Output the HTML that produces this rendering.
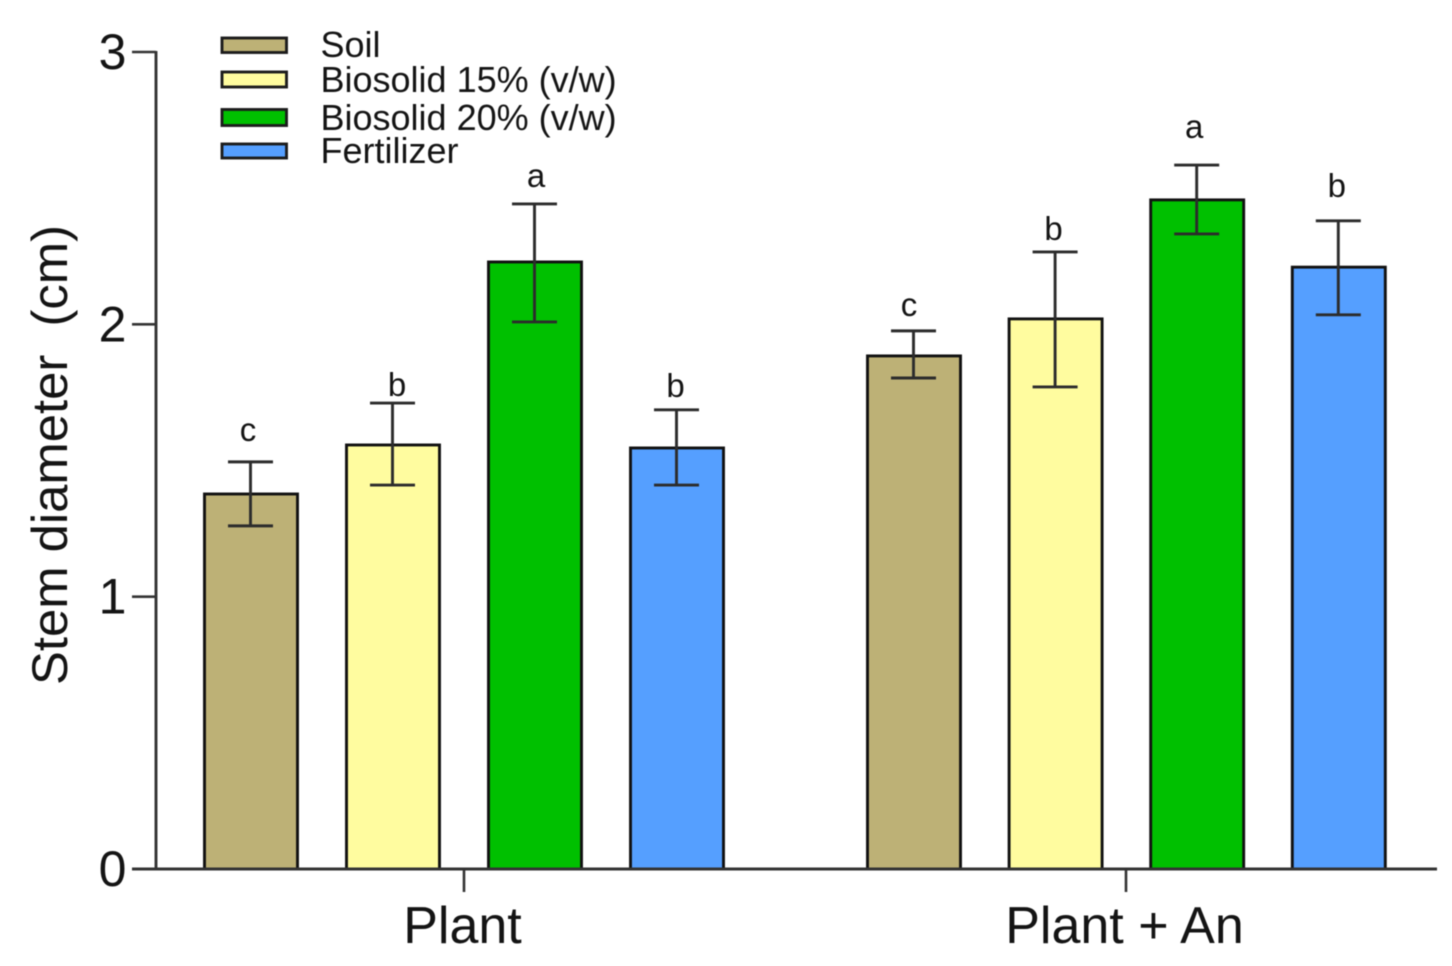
<!DOCTYPE html>
<html>
<head>
<meta charset="utf-8">
<title>Stem diameter chart</title>
<style>
html,body{margin:0;padding:0;background:#fff;}
svg{display:block;filter:blur(0.6px);}
text{font-family:"Liberation Sans",sans-serif;fill:#141414;white-space:pre;}
</style>
</head>
<body>
<svg id="chart" xmlns="http://www.w3.org/2000/svg" width="1452" height="966" viewBox="0 0 1452 966"></svg>
<script>
const groups = ['Plant', 'Plant + An'];
const seriesNames = ['Soil', 'Biosolid 15% (v/w)', 'Biosolid 20% (v/w)', 'Fertilizer'];
const yTicks = [0, 1, 2, 3];
const barValues = [1.377, 1.557, 2.229, 1.546, 1.884, 2.02, 2.457, 2.21];
const errorUpper = [1.495, 1.711, 2.442, 1.686, 1.976, 2.266, 2.585, 2.38];
const errorLower = [1.26, 1.41, 2.009, 1.41, 1.803, 1.77, 2.332, 2.035];
const letters = ['c', 'b', 'a', 'b', 'c', 'b', 'a', 'b'];
const letterLevels = [1.572, 1.737, 2.505, 1.733, 2.031, 2.31, 2.685, 2.468];

const colors = ['#BDB176', '#FFFC9F', '#00C000', '#559FFF'];
const NS = 'http://www.w3.org/2000/svg';
const svg = document.getElementById('chart');
const axisColor = '#333';
const letterNudge = [-3, 4, 1, -1.5, -5, -2, -3, -2];

function yScale(v) { return 869 - v * 272.33; }
function xScale(g, s) { return (g === 0 ? 251 : 914) + s * (g === 0 ? 142 : 141.6); }
function groupCenter(g) { return g === 0 ? 464 : 1126; }

function make(tag, attrs, text) {
  const el = document.createElementNS(NS, tag);
  for (const k in attrs) el.setAttribute(k, attrs[k]);
  if (text !== undefined) el.textContent = text;
  svg.appendChild(el);
  return el;
}

// Bars, error bars and significance letters
barValues.forEach(function (v, i) {
  const g = Math.floor(i / seriesNames.length);
  const s = i % seriesNames.length;
  const cx = xScale(g, s);
  const top = yScale(v);
  const bar = make('rect', {x: cx - 46.5, y: top, width: 93, height: yScale(0) - top, fill: colors[s], stroke: '#111', 'stroke-width': 2.9});
  
  

  const up = yScale(errorUpper[i]);
  const lo = yScale(errorLower[i]);
  const stem = make('line', {x1: cx - 0.5, x2: cx - 0.5, y1: up, y2: lo, stroke: '#2c2c2c', 'stroke-width': 2.9});
  
  
  const capTop = make('line', {x1: cx - 23, x2: cx + 22, y1: up, y2: up, stroke: '#2c2c2c', 'stroke-width': 2.9});
  
  
  const capLow = make('line', {x1: cx - 23, x2: cx + 22, y1: lo, y2: lo, stroke: '#2c2c2c', 'stroke-width': 2.9});
  
  

  const letter = make('text', {x: cx + letterNudge[i], y: yScale(letterLevels[i]), 'font-size': 33, 'text-anchor': 'middle'}, letters[i]);
  
  
});

// Y axis
const yAxis = make('line', {x1: 156, x2: 156, y1: yScale(3) - 1, y2: yScale(0), stroke: axisColor, 'stroke-width': 2.9});


yTicks.forEach(function (t) {
  const tick = make('line', {x1: 132, x2: 156, y1: yScale(t), y2: yScale(t), stroke: axisColor, 'stroke-width': 2.6});
  
  
  const label = make('text', {x: 112.5, y: yScale(t) + 17, 'font-size': 50, 'text-anchor': 'middle'}, String(t));
  
  
});

// X axis
const xAxis = make('line', {x1: 132, x2: 1437, y1: yScale(0), y2: yScale(0), stroke: axisColor, 'stroke-width': 2.9});


groups.forEach(function (name, g) {
  const cx = groupCenter(g);
  const tick = make('line', {x1: cx, x2: cx, y1: yScale(0), y2: 892, stroke: axisColor, 'stroke-width': 2.6});
  
  
  const label = make('text', {x: cx - 1.5, y: 943, 'font-size': 52, 'text-anchor': 'middle'}, name);
  
  
});

// Y axis title
const yTitle = make('text', {transform: 'translate(67,685) rotate(-90)', 'font-size': 50, textLength: 460, lengthAdjust: 'spacingAndGlyphs'}, 'Stem diameter  (cm)');



// Legend
const legendSwatchY = [38, 72, 109.5, 144];
const legendSwatchH = [14.5, 15, 16, 14];
const legendTextY = [57, 92, 130, 163];
seriesNames.forEach(function (name, i) {
  const sw = make('rect', {x: 222, y: legendSwatchY[i], width: 64.5, height: legendSwatchH[i], fill: colors[i], stroke: '#1c1c1c', 'stroke-width': 2.9});
  
  
  const label = make('text', {x: 320.5, y: legendTextY[i], 'font-size': 36}, name);
  
  
});
</script>
</body>
</html>
